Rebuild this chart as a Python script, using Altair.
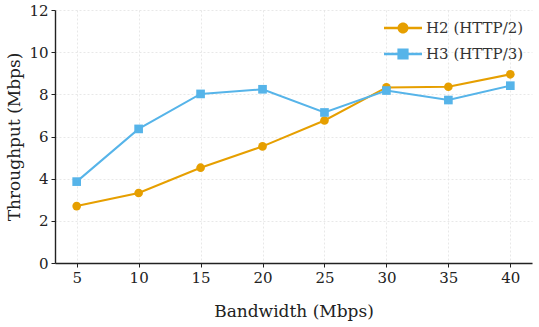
import altair as alt
import pandas as pd

bandwidth = [5, 10, 15, 20, 25, 30, 35, 40]
h2_throughput = [2.70, 3.32, 4.52, 5.53, 6.76, 8.33, 8.36, 8.95]
h3_throughput = [3.86, 6.36, 8.02, 8.24, 7.14, 8.18, 7.73, 8.41]
series_names = ["H2 (HTTP/2)", "H3 (HTTP/3)"]
colors = ["#E69F00", "#56B4E9"]
y_ticks = [0, 2, 4, 6, 8, 10, 12]
x_ticks = [5, 10, 15, 20, 25, 30, 35, 40]

df = pd.DataFrame({
    "Bandwidth": bandwidth * 2,
    "Throughput": h2_throughput + h3_throughput,
    "Protocol": [series_names[0]] * len(bandwidth) + [series_names[1]] * len(bandwidth),
})

FONT = "DejaVu Serif"

x_enc = alt.X(
    "Bandwidth:Q",
    scale=alt.Scale(domain=[3.25, 41.75], nice=False, zero=False),
    axis=alt.Axis(values=x_ticks, title="Bandwidth (Mbps)", format="d"),
)
y_enc = alt.Y(
    "Throughput:Q",
    scale=alt.Scale(domain=[0, 12], nice=False),
    axis=alt.Axis(values=y_ticks, title="Throughput (Mbps)", format="d"),
)

base = alt.Chart(df)

lines = base.mark_line(strokeWidth=2).encode(
    x=x_enc, y=y_enc,
    color=alt.Color("Protocol:N", scale=alt.Scale(domain=series_names, range=colors), legend=None),
    detail="Protocol:N",
)

points = base.mark_point(filled=True, opacity=1, strokeWidth=0).encode(
    x=x_enc, y=y_enc,
    color=alt.Color("Protocol:N", scale=alt.Scale(domain=series_names, range=colors), legend=None),
    shape=alt.Shape("Protocol:N", scale=alt.Scale(domain=series_names, range=["circle", "square"]), legend=None),
    size=alt.value(75),
)

circle_path = ("M-1.9,-0.12H1.9V0.12H-1.9Z "
               "M0.55,0A0.55,0.55 0 1 1 -0.55,0A0.55,0.55 0 1 1 0.55,0Z")
square_path = ("M-1.9,-0.12H1.9V0.12H-1.9Z "
               "M-0.56,-0.56H0.56V0.56H-0.56Z")

leg = dict(
    title=None, orient="none", legendX=338, legendY=8,
    symbolSize=400, symbolStrokeWidth=0, labelOffset=13,
    labelFont=FONT, labelFontSize=15, labelColor="#333333",
    rowPadding=8, padding=0,
)

legend_layer = base.mark_point(filled=True, opacity=1, strokeWidth=0, size=400).encode(
    x=x_enc, y=y_enc,
    color=alt.Color("Protocol:N", scale=alt.Scale(domain=series_names, range=colors), legend=alt.Legend(**leg)),
    shape=alt.Shape("Protocol:N", scale=alt.Scale(domain=series_names, range=[circle_path, square_path]),
                    legend=alt.Legend(**leg)),
).transform_filter("false")

chart = (
    alt.layer(lines, points, legend_layer)
    .resolve_scale(color="independent", shape="independent")
    .properties(
        width=477, height=253,
        autosize=alt.AutoSizeParams(type="none"),
        padding={"left": 55, "top": 10, "right": 7, "bottom": 64},
        background="white",
    )
    .configure_view(stroke=None)
    .configure_axis(
        labelFont=FONT, labelFontSize=15, labelColor="#222222",
        titleFont=FONT, titleFontSize=17, titleFontWeight="normal", titleColor="#222222",
        domainColor="#222222", domainWidth=1.4,
        tickColor="#222222", tickSize=4, tickWidth=1,
        gridColor="#e2e2e2", gridDash=[2, 2], gridWidth=0.8,
        labelPadding=3,
    )
    .configure_axisX(titlePadding=18)
    .configure_axisY(titlePadding=5)
)

chart.save("out.html", embed_options={"renderer": "svg", "actions": False})
